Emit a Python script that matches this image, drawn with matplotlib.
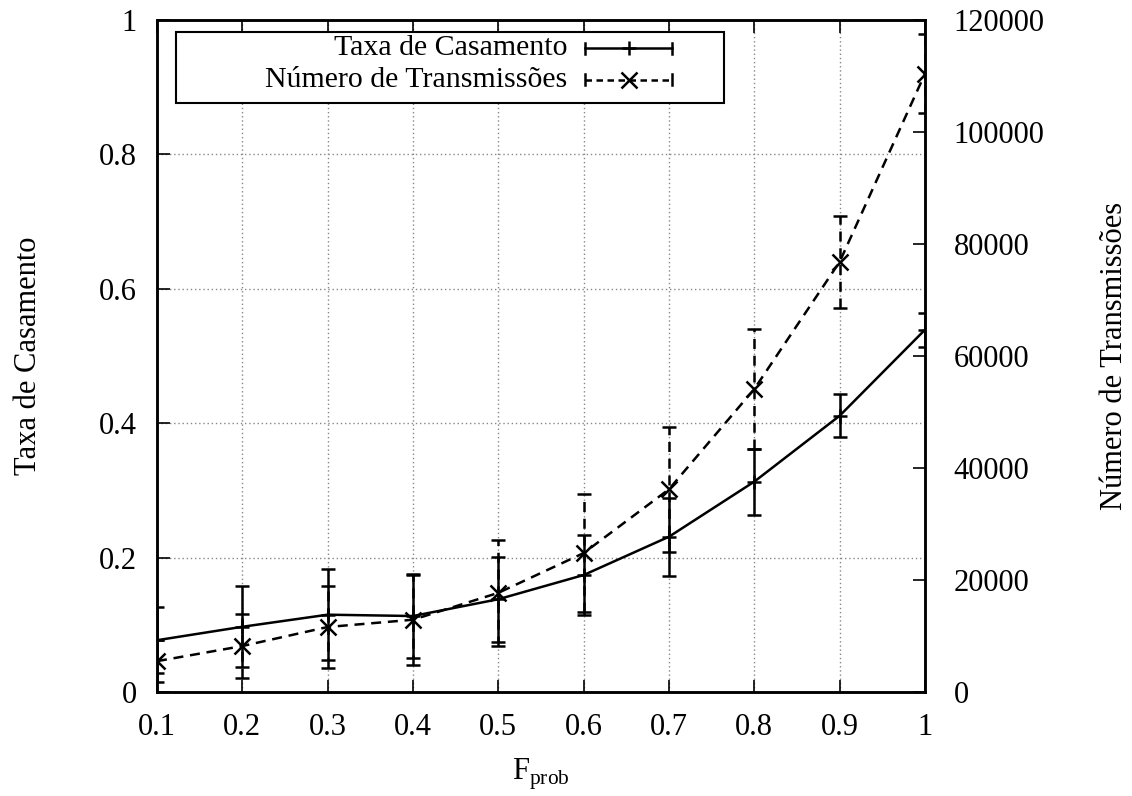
import matplotlib
matplotlib.use("Agg")
import matplotlib.pyplot as plt
from matplotlib.lines import Line2D
from matplotlib.patches import Rectangle

plt.rcParams['font.family'] = ['Liberation Serif', 'DejaVu Serif']
plt.rcParams['mathtext.fontset'] = 'custom'
plt.rcParams['mathtext.rm'] = 'Liberation Serif'

# data
f_prob = [0.1, 0.2, 0.3, 0.4, 0.5, 0.6, 0.7, 0.8, 0.9, 1.0]
taxa = [0.077, 0.097, 0.115, 0.113, 0.138, 0.174, 0.231, 0.313, 0.411, 0.539]
taxa_err = [0.049, 0.060, 0.068, 0.063, 0.063, 0.060, 0.058, 0.049, 0.032, 0.025]
transm = [5500, 8200, 11600, 12900, 17700, 24800, 36200, 54100, 76800, 110400]
transm_err = [3700, 5700, 7400, 8000, 9450, 10500, 11200, 10700, 8200, 7100]

x_ticks = [0.1, 0.2, 0.3, 0.4, 0.5, 0.6, 0.7, 0.8, 0.9, 1.0]
x_labels = ['0.1', '0.2', '0.3', '0.4', '0.5', '0.6', '0.7', '0.8', '0.9', '1']
y_ticks = [0, 0.2, 0.4, 0.6, 0.8, 1.0]
y_labels = ['0', '0.2', '0.4', '0.6', '0.8', '1']
y2_ticks = [0, 20000, 40000, 60000, 80000, 100000, 120000]

fig = plt.figure(figsize=(11.32, 7.96), dpi=100)
ax = fig.add_axes([0.1387, 0.1307, 0.6784, 0.8442])
ax2 = ax.twinx()

lw = 1.8
fs = 22
dash = (0, (4, 2.7))

# Taxa de Casamento (left axis)
ax.errorbar(f_prob, taxa, yerr=taxa_err, color='black', linewidth=lw,
            elinewidth=lw, capsize=5, capthick=lw, marker='+',
            markersize=10, markeredgewidth=lw, zorder=3)

# Numero de Transmissoes (right axis)
eb2 = ax2.errorbar(f_prob, transm, yerr=transm_err, color='black', linewidth=lw,
                   linestyle=dash, elinewidth=lw, capsize=5,
                   capthick=lw, marker='x', markersize=11, markeredgewidth=lw,
                   zorder=3)
for bl in eb2[2]:
    bl.set_linestyle(dash)

ax.set_xlim(0.1, 1.0)
ax.set_ylim(0, 1)
ax2.set_ylim(0, 120000)

ax.set_xticks(x_ticks)
ax.set_xticklabels(x_labels, fontsize=fs)
ax.set_yticks(y_ticks)
ax.set_yticklabels(y_labels, fontsize=fs)
ax2.set_yticks(y2_ticks)
ax2.set_yticklabels([str(v) for v in y2_ticks], fontsize=fs)

ax.tick_params(axis='x', direction='in', length=9, width=1.2, top=True, pad=15)
ax.tick_params(axis='y', direction='in', length=9, width=1.2, right=False, pad=14.5)
ax2.tick_params(axis='y', direction='in', length=9, width=1.2, pad=20.5)

ax.grid(True, color='#888888', linestyle=(0, (1, 2)), linewidth=1.0)
for a in (ax, ax2):
    for s in a.spines.values():
        s.set_linewidth(1.8)

ax.set_xlabel(r'F$_{\mathrm{prob}}$', fontsize=fs, labelpad=11)
ax.set_ylabel('Taxa de Casamento', fontsize=fs, labelpad=40)
ax2.set_ylabel('Número de Transmissões', fontsize=fs, labelpad=40)

# legend box drawn gnuplot style (text right aligned, sample on the right)
box = Rectangle((0.0247, 0.876), 0.713, 0.106, transform=ax.transAxes,
                fill=True, facecolor='white', edgecolor='black',
                linewidth=1.5, zorder=5)
ax2.add_patch(box)
rows = [0.958, 0.911]
names = ['Taxa de Casamento', 'Número de Transmissões']
for yy, name in zip(rows, names):
    ax2.text(0.534, yy, name, transform=ax.transAxes, ha='right', va='center',
             fontsize=21.5, zorder=6)

x0, x1 = 0.557, 0.671
xm = (x0 + x1) / 2
cap_h = 0.008
ax2.add_line(Line2D([x0, x1], [rows[0], rows[0]], transform=ax.transAxes,
                    color='black', linewidth=lw, zorder=6))
for xx in (x0, x1):
    ax2.add_line(Line2D([xx, xx], [rows[0] - cap_h, rows[0] + cap_h],
                        transform=ax.transAxes, color='black', linewidth=lw, zorder=6))
ax2.add_line(Line2D([xm], [rows[0]], transform=ax.transAxes, marker='+',
                    markersize=10, markeredgewidth=lw, color='black', zorder=6))

ax2.add_line(Line2D([x0, x1], [rows[1], rows[1]], transform=ax.transAxes,
                    color='black', linewidth=lw, linestyle=(0, (2.6, 1.8)), zorder=6))
for xx in (x0, x1):
    ax2.add_line(Line2D([xx, xx], [rows[1] - cap_h, rows[1] + cap_h],
                        transform=ax.transAxes, color='black', linewidth=lw, zorder=6))
ax2.add_line(Line2D([xm], [rows[1]], transform=ax.transAxes, marker='x',
                    markersize=11, markeredgewidth=lw, color='black', zorder=6))

fig.savefig('out.png', dpi=100)
